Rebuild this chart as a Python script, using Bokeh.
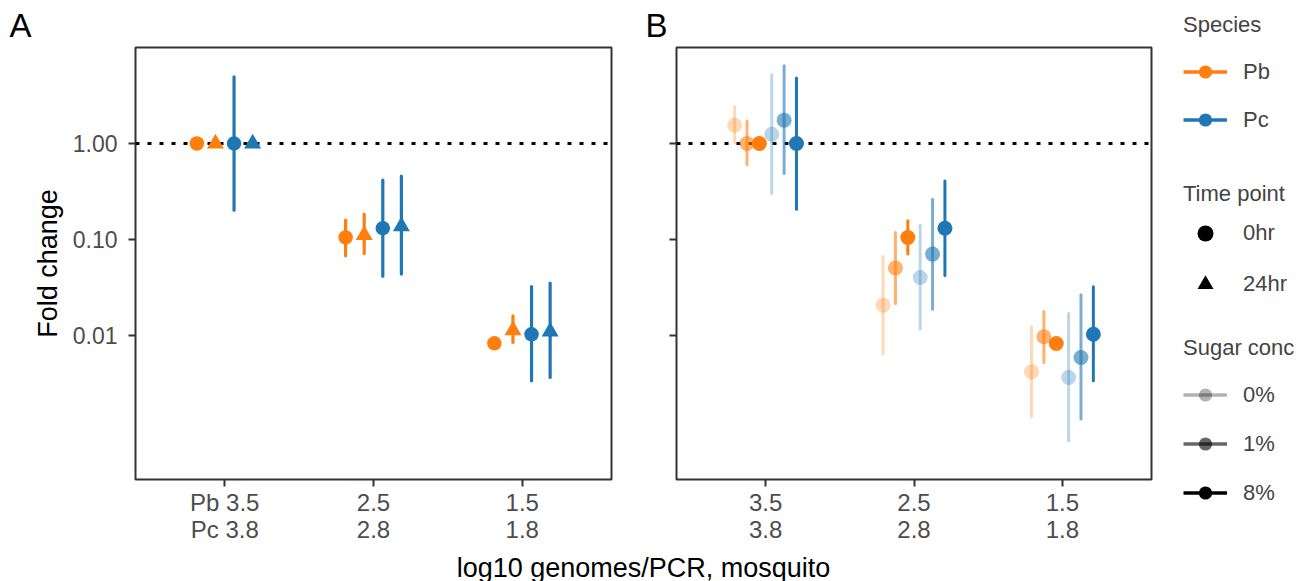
import numpy as np
from bokeh.plotting import figure
from bokeh.models import (FactorRange, Range1d, FixedTicker, CustomJSTickFormatter,
                          Span, Label, Legend, LegendItem, ColumnDataSource, Title, Spacer)
from bokeh.transform import dodge
from bokeh.layouts import row, column
from bokeh.embed import file_html
from bokeh.resources import INLINE

nan = float("nan")

# ---------------- data ----------------
cats_A = ["Pb 3.5\nPc 3.8", "2.5\n2.8", "1.5\n1.8"]
cats_B = ["3.5\n3.8", "2.5\n2.8", "1.5\n1.8"]

# Panel A : species x time point (fold change, lower, upper)
a_pb_0hr = [1.00, 0.105, 0.0083]
a_pb_0hr_lo = [nan, 0.0676, nan]
a_pb_0hr_hi = [nan, 0.159, nan]
a_pb_24hr = [1.00, 0.111, 0.0113]
a_pb_24hr_lo = [nan, 0.0715, 0.0085]
a_pb_24hr_hi = [nan, 0.184, 0.016]
a_pc_0hr = [1.00, 0.131, 0.0103]
a_pc_0hr_lo = [0.202, 0.0415, 0.00337]
a_pc_0hr_hi = [4.95, 0.415, 0.0324]
a_pc_24hr = [1.00, 0.137, 0.0110]
a_pc_24hr_lo = [nan, 0.0436, 0.00365]
a_pc_24hr_hi = [nan, 0.457, 0.0351]

# Panel B : species x sugar concentration
b_pb_0 = [1.55, 0.0207, 0.00419]
b_pb_0_lo = [1.02, 0.0064, 0.00142]
b_pb_0_hi = [2.41, 0.0665, 0.0123]
b_pb_1 = [1.00, 0.0504, 0.00969]
b_pb_1_lo = [0.60, 0.0216, 0.00524]
b_pb_1_hi = [1.72, 0.118, 0.0178]
b_pb_8 = [1.00, 0.105, 0.00826]
b_pb_8_lo = [nan, 0.0705, nan]
b_pb_8_hi = [nan, 0.157, nan]
b_pc_0 = [1.25, 0.0402, 0.00365]
b_pc_0_lo = [0.304, 0.0117, 0.0008]
b_pc_0_hi = [5.2, 0.141, 0.0169]
b_pc_1 = [1.75, 0.0705, 0.0059]
b_pc_1_lo = [0.487, 0.0188, 0.00135]
b_pc_1_hi = [6.45, 0.263, 0.0265]
b_pc_8 = [1.00, 0.131, 0.0103]
b_pc_8_lo = [0.207, 0.0422, 0.00337]
b_pc_8_hi = [4.8, 0.408, 0.0322]

y_ticks = [0.01, 0.1, 1.0]

# ---------------- style ----------------
ORANGE = "#FF7F0E"
BLUE = "#1F77B4"
FONT = "Liberation Sans"
DARK = "#333333"
TICKTXT = "#4D4D4D"
ROW_H = 548


def base_fig(cats, width, left, right, tag, tag_offset):
    p = figure(width=width, height=ROW_H,
               x_range=FactorRange(factors=cats, range_padding=0.1,
                                   range_padding_units="absolute"),
               y_range=Range1d(10 ** -3.5, 10.0), y_axis_type="log",
               output_backend="svg", toolbar_location=None, title=None,
               min_border_left=left, min_border_right=right,
               min_border_top=47, min_border_bottom=ROW_H - 47 - 432)
    p.add_layout(Title(text=tag, align="left", offset=tag_offset, standoff=8,
                       text_font=FONT, text_font_size="33px",
                       text_font_style="normal", text_color="black"), "above")
    p.outline_line_color = DARK
    p.outline_line_width = 2
    p.xgrid.visible = False
    p.ygrid.visible = False
    p.background_fill_color = "white"
    p.border_fill_color = "white"
    p.yaxis.ticker = FixedTicker(ticks=y_ticks)
    for ax in (p.xaxis[0], p.yaxis[0]):
        ax.axis_line_color = None
        ax.major_tick_line_color = DARK
        ax.major_tick_line_width = 2
        ax.major_tick_in = 0
        ax.major_tick_out = 7
        ax.minor_tick_line_color = None
        ax.major_label_text_font = FONT
        ax.major_label_text_font_size = "23px"
        ax.major_label_text_color = TICKTXT
    p.xaxis.major_label_standoff = 2
    p.xaxis.major_label_text_font_size = "24px"
    p.xaxis.major_label_text_line_height = 1.0
    p.yaxis.major_label_standoff = 11
    p.add_layout(Span(location=1.0, dimension="width", line_color="black",
                      line_dash="4 8", line_width=3, level="underlay"))
    return p


def pointrange(p, cats, offset, mid, lo, hi, color, marker, size, alpha=1.0, lw=3.2):
    src = ColumnDataSource(dict(cat=cats, mid=np.array(mid, dtype=float),
                                lo=np.array(lo, dtype=float), hi=np.array(hi, dtype=float)))
    xd = dodge("cat", offset, range=p.x_range)
    p.segment(x0=xd, y0="lo", x1=xd, y1="hi", source=src, line_color=color,
              line_width=lw, line_alpha=alpha, line_cap="round")
    p.scatter(x=xd, y="mid", source=src, marker=marker, size=size,
              fill_color=color, line_color=None, fill_alpha=alpha)


# ---------------- panel A ----------------
pA = base_fig(cats_A, 640, 135, 29, "A", -126)
pA.yaxis.formatter = CustomJSTickFormatter(code="return tick.toFixed(2)")
pA.yaxis.axis_label = "Fold change"
pA.yaxis.axis_label_text_font = FONT
pA.yaxis.axis_label_text_font_size = "27px"
pA.yaxis.axis_label_text_font_style = "normal"
pA.yaxis.axis_label_text_color = "black"
pA.yaxis.axis_label_standoff = 7

pointrange(pA, cats_A, -0.1875, a_pb_0hr, a_pb_0hr_lo, a_pb_0hr_hi, ORANGE, "circle", 14.5)
pointrange(pA, cats_A, -0.0625, a_pb_24hr, a_pb_24hr_lo, a_pb_24hr_hi, ORANGE, "triangle", 17)
pointrange(pA, cats_A, 0.0625, a_pc_0hr, a_pc_0hr_lo, a_pc_0hr_hi, BLUE, "circle", 14.5)
pointrange(pA, cats_A, 0.1875, a_pc_24hr, a_pc_24hr_lo, a_pc_24hr_hi, BLUE, "triangle", 17)

# ---------------- panel B ----------------
pB = base_fig(cats_B, 543, 36, 32, "B", -31)
pB.yaxis.formatter = CustomJSTickFormatter(code="return ''")

step = 0.5 / 6
offs = [(-2.5 + i) * step for i in range(6)]
pointrange(pB, cats_B, offs[0], b_pb_0, b_pb_0_lo, b_pb_0_hi, ORANGE, "circle", 15, 0.3, 3)
pointrange(pB, cats_B, offs[1], b_pb_1, b_pb_1_lo, b_pb_1_hi, ORANGE, "circle", 15, 0.6, 3)
pointrange(pB, cats_B, offs[2], b_pb_8, b_pb_8_lo, b_pb_8_hi, ORANGE, "circle", 15, 1.0, 3)
pointrange(pB, cats_B, offs[3], b_pc_0, b_pc_0_lo, b_pc_0_hi, BLUE, "circle", 15, 0.3, 3)
pointrange(pB, cats_B, offs[4], b_pc_1, b_pc_1_lo, b_pc_1_hi, BLUE, "circle", 15, 0.6, 3)
pointrange(pB, cats_B, offs[5], b_pc_8, b_pc_8_lo, b_pc_8_hi, BLUE, "circle", 15, 1.0, 3)


# ---------------- legends ----------------
LEG_W = 129


def legend_fig(h):
    f = figure(width=LEG_W, height=h, output_backend="svg", toolbar_location=None,
               x_range=Range1d(0, 1), y_range=Range1d(0, 1), min_border=0,
               x_axis_location=None, y_axis_location=None)
    f.outline_line_color = None
    f.xgrid.visible = False
    f.ygrid.visible = False
    return f


def make_legend(items, title, gh, spacing, standoff):
    return Legend(items=items, title=title, location="top_left", margin=0, padding=5,
                  spacing=spacing, glyph_width=44, glyph_height=gh, label_height=gh,
                  label_standoff=16, title_standoff=standoff,
                  label_text_font=FONT, label_text_font_size="22px",
                  title_text_font=FONT, title_text_font_size="22px",
                  title_text_font_style="normal", border_line_color=None,
                  background_fill_alpha=0)


species_labels = ["Pb", "Pc"]
species_colors = [ORANGE, BLUE]
time_labels = ["0hr", "24hr"]
time_markers = ["circle", "triangle"]
sugar_labels = ["0%", "1%", "8%"]
sugar_alphas = [0.3, 0.6, 1.0]

L1 = legend_fig(169)
items = []
for lab, col in zip(species_labels, species_colors):
    r1 = L1.line(x=[nan], y=[nan], line_color=col, line_width=3.3)
    r2 = L1.scatter(x=[nan], y=[nan], marker="circle", fill_color=col, line_color=None)
    items.append(LegendItem(label=lab, renderers=[r1, r2]))
L1.add_layout(make_legend(items, "Species", 33, 15, 17))

L2 = legend_fig(154)
items = []
for lab, mk in zip(time_labels, time_markers):
    r = L2.scatter(x=[nan], y=[nan], marker=mk, fill_color="black", line_color=None)
    items.append(LegendItem(label=lab, renderers=[r]))
L2.add_layout(make_legend(items, "Time point", 40, 11, 6))

L3 = legend_fig(ROW_H - 12 - 169 - 154)
items = []
for lab, a in zip(sugar_labels, sugar_alphas):
    r1 = L3.line(x=[nan], y=[nan], line_color="black", line_alpha=a, line_width=3.3)
    r2 = L3.scatter(x=[nan], y=[nan], marker="circle", fill_color="black",
                    fill_alpha=a, line_color=None)
    items.append(LegendItem(label=lab, renderers=[r1, r2]))
L3.add_layout(make_legend(items, "Sugar conc", 33, 16, 17))

legend_col = column(Spacer(width=LEG_W, height=12), L1, L2, L3)

# ---------------- shared x-axis title ----------------
T = figure(width=640 + 543 + LEG_W, height=581 - ROW_H, output_backend="svg",
           toolbar_location=None, x_range=Range1d(0, 1), y_range=Range1d(0, 1),
           min_border=0, x_axis_location=None, y_axis_location=None)
T.outline_line_color = None
T.xgrid.visible = False
T.ygrid.visible = False
T.add_layout(Label(x=643, y=14, x_units="screen", y_units="screen",
                   text="log10 genomes/PCR, mosquito", text_font=FONT,
                   text_font_size="27px", text_align="center",
                   text_baseline="alphabetic", text_color="black"))

layout = column(row(pA, pB, legend_col), T)

with open("out.html", "w") as fh:
    fh.write(file_html(layout, INLINE))
